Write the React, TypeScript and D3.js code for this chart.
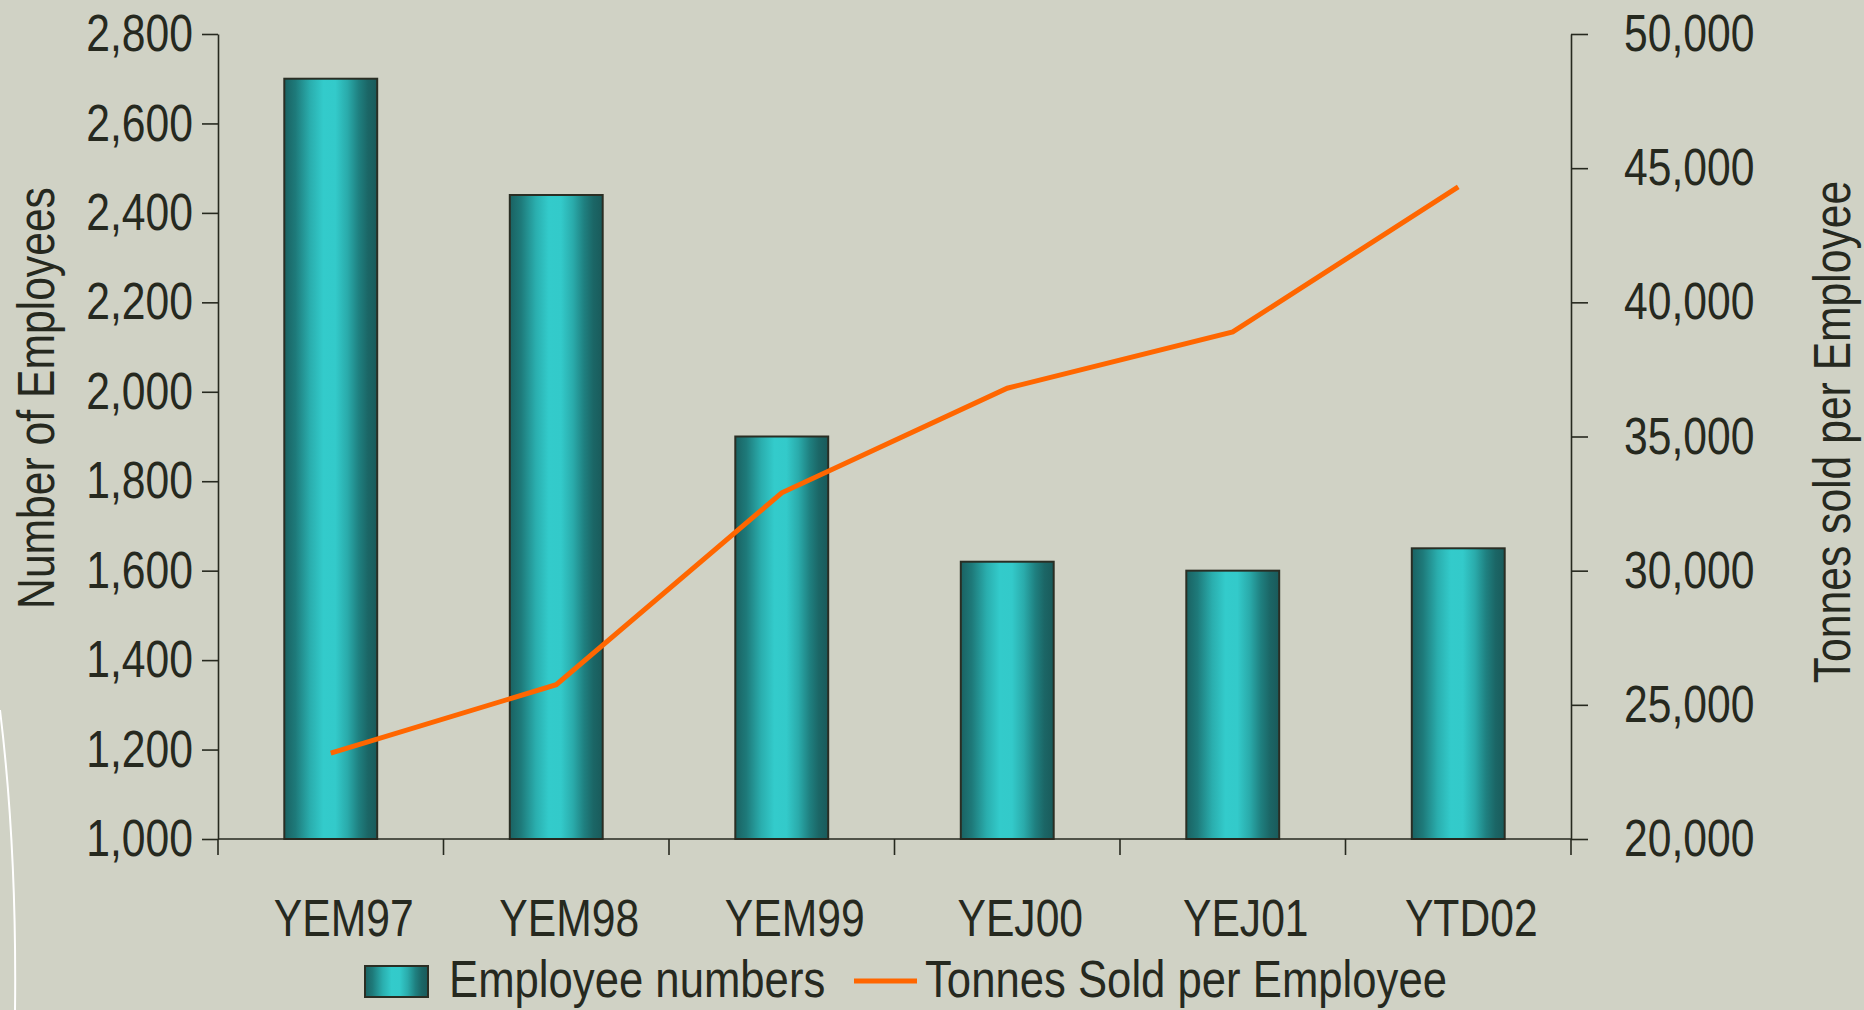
import React, { useEffect, useRef } from 'react'
import * as d3 from 'd3'

// data
const categories = ['YEM97', 'YEM98', 'YEM99', 'YEJ00', 'YEJ01', 'YTD02']
const employeeNumbers = [2700, 2440, 1900, 1620, 1600, 1650]
const tonnesPerEmployee = [23200, 25750, 32900, 36800, 38900, 44300]
const leftTicks = [1000, 1200, 1400, 1600, 1800, 2000, 2200, 2400, 2600, 2800]
const rightTicks = [20000, 25000, 30000, 35000, 40000, 45000, 50000]

const W = 1864
const H = 1010
const FONT = '"Liberation Sans", Arial, sans-serif'
const INK = '#26291f'
// the original uses a narrow face; squeeze the regular one horizontally
const SQ = 0.82

const App = () => {
    const svgRef = useRef<SVGSVGElement>(null)

    useEffect(() => {
        const svg = d3.select(svgRef.current)
        svg.selectAll('*').remove()

        const left = 218, right = 1571, top = 34, bottom = 839

        const x = d3.scaleBand<string>()
            .domain(categories)
            .range([left, right])
            .paddingInner(0.588)
            .paddingOuter(0.294)
        const step = x.step()
        const cx = (c: string) => (x(c) as number) + x.bandwidth() / 2

        const yL = d3.scaleLinear().domain([1000, 2800]).range([bottom, top])
        const yR = d3.scaleLinear().domain([20000, 50000]).range([bottom, top])

        // background
        svg.append('rect').attr('width', W).attr('height', H).attr('fill', '#d0d2c5')
        svg.append('path')
            .attr('d', 'M0,710 Q17,850 15,1012')
            .attr('fill', 'none').attr('stroke', '#ffffff').attr('stroke-width', 2)

        const defs = svg.append('defs')
        const grad = defs.append('linearGradient').attr('id', 'barGrad')
            .attr('x1', '0').attr('x2', '1').attr('y1', '0').attr('y2', '0')
        const stops: [number, string][] = [
            [0, '#1a6262'], [0.12, '#1e7a7a'], [0.28, '#2aaeae'], [0.42, '#33cbcb'],
            [0.55, '#33caca'], [0.68, '#2aabab'], [0.8, '#1f8080'], [0.9, '#1b6666'], [1, '#195a5a'],
        ]
        stops.forEach(([o, c]) => grad.append('stop').attr('offset', o).attr('stop-color', c))

        // squeezed text at (px, py), optional rotation
        const label = (px: number, py: number, txt: string, anchor = 'start', size = 52, rot = 0, sq = SQ) =>
            svg.append('text')
                .attr('transform', `translate(${px},${py}) rotate(${rot}) scale(${sq},1)`)
                .attr('text-anchor', anchor)
                .attr('fill', INK)
                .style('font-family', FONT).style('font-size', `${size}px`)
                .text(txt)

        // bars
        svg.selectAll('.bar')
            .data(categories)
            .join('rect')
            .attr('class', 'bar')
            .attr('x', d => x(d) as number)
            .attr('width', x.bandwidth())
            .attr('y', (d, i) => yL(employeeNumbers[i]))
            .attr('height', (d, i) => bottom - yL(employeeNumbers[i]))
            .attr('fill', 'url(#barGrad)')
            .attr('stroke', '#2a2e24')
            .attr('stroke-width', 2)

        // axes
        const axisStyle = (g: d3.Selection<SVGGElement, unknown, null, undefined>) => {
            g.selectAll('path, line').attr('stroke', INK).attr('stroke-width', 1.6)
            g.selectAll<SVGTextElement, unknown>('text')
                .attr('fill', INK)
                .style('font-family', FONT).style('font-size', '52px')
                .attr('x', function () { return +(this.getAttribute('x') || 0) / SQ })
                .attr('transform', `scale(${SQ},1)`)
        }

        const leftAxis = d3.axisLeft(yL).tickValues(leftTicks).tickFormat(d3.format(',')).tickSize(16).tickSizeOuter(0).tickPadding(9)
        svg.append('g').attr('transform', `translate(${left},0)`).call(leftAxis).call(axisStyle)

        const rightAxis = d3.axisRight(yR).tickValues(rightTicks).tickFormat(d3.format(',')).tickSize(17).tickSizeOuter(0).tickPadding(36)
        svg.append('g').attr('transform', `translate(${right},0)`).call(rightAxis).call(axisStyle)

        // bottom axis: ticks at category boundaries
        const bx = svg.append('g')
        bx.append('line').attr('x1', left).attr('x2', right).attr('y1', bottom).attr('y2', bottom)
            .attr('stroke', INK).attr('stroke-width', 1.6)
        bx.selectAll('.xtick')
            .data(d3.range(categories.length + 1))
            .join('line')
            .attr('class', 'xtick')
            .attr('x1', i => left + i * step).attr('x2', i => left + i * step)
            .attr('y1', bottom).attr('y2', bottom + 16)
            .attr('stroke', INK).attr('stroke-width', 1.6)
        categories.forEach(c => label(cx(c) + 13, 936, c, 'middle'))

        // line series
        const lineGen = d3.line<number>()
            .x((v, i) => cx(categories[i]))
            .y(v => yR(v))
        svg.append('path')
            .datum(tonnesPerEmployee)
            .attr('d', lineGen)
            .attr('fill', 'none')
            .attr('stroke', '#ff6600')
            .attr('stroke-width', 5)

        // axis titles
        label(54, 398, 'Number of Employees', 'middle', 52, -90)
        label(1850, 432, 'Tonnes sold per Employee', 'middle', 52, -90)

        // legend
        svg.append('rect').attr('x', 365).attr('y', 966).attr('width', 63).attr('height', 31)
            .attr('fill', 'url(#barGrad)').attr('stroke', '#2a2e24').attr('stroke-width', 2)
        label(449, 997, 'Employee numbers', 'start', 52, 0, 0.84)
        svg.append('line').attr('x1', 854).attr('x2', 917).attr('y1', 981).attr('y2', 981)
            .attr('stroke', '#ff6600').attr('stroke-width', 5)
        label(925, 997, 'Tonnes Sold per Employee', 'start', 52, 0, 0.84)
    }, [])

    return (
        <svg ref={svgRef} width={W} height={H}
            style={{ position: 'absolute', left: 0, top: 0, display: 'block' }} />
    )
}

export default App
